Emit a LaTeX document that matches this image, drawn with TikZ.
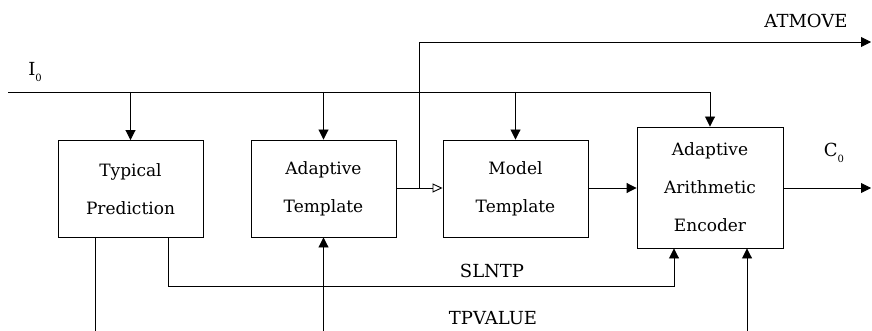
\documentclass[tikz,border=0pt]{standalone}
\usepackage{fontspec}
\setmainfont{DejaVu Serif}
\usetikzlibrary{arrows.meta}
\newcommand{\subz}{\raisebox{-6pt}{\fontsize{10}{10}\selectfont 0}}
\tikzset{
	blk/.style={draw, line width=0.9pt, minimum width=145pt, minimum height=97pt, align=center, font=\fontsize{17}{38}\selectfont},
	lbl/.style={font=\fontsize{18}{20}\selectfont},
	arr/.style={-{Triangle[length=10pt,width=10pt]}},
	openarr/.style={-{Triangle[open,length=10pt,width=9pt]}}
}
\begin{document}
\begin{tikzpicture}[x=1pt, y=-1pt, line width=0.9pt]
			%%%%% START %%%%%
			\useasboundingbox (0, 0) rectangle (872, 331);
			
			\node[blk] (tp) at (130.5, 189) {Typical\\Prediction};
			\node[blk] (at) at (323.5, 188.5) {Adaptive\\Template};
			\node[blk] (mt) at (515.5, 188.5) {Model\\Template};
			\node[blk, minimum width=146pt, minimum height=121pt] (aae) at (710, 187.5) {Adaptive\\Arithmetic\\Encoder};
			
			\coordinate (in) at (8, 92);
			\coordinate (bot) at (0, 331);
			\coordinate (split) at (419, 188);
			\coordinate (atmove) at (871, 42);
			\coordinate (out) at (871, 188);
			\coordinate (sl) at (674, 286);
			
			% input I0
			\node[lbl] (iin) at (35, 72) {I\subz};
			\draw[arr] (in) -| (aae.north);
			\draw[arr] (tp.north |- in) -- (tp.north);
			\draw[arr] (at.north |- in) -- (at.north);
			\draw[arr] (mt.north |- in) -- (mt.north);
			
			% template path
			\draw[openarr] (at.east |- split) -- (mt.west |- split);
			\draw[arr] (split) |- (atmove);
			\node[lbl] (atm) at (806, 21) {ATMOVE};
			\draw[arr] (mt.east |- split) -- (aae.west |- split);
			
			% output C0
			\draw[arr] (aae.east |- out) -- (out);
			\node[lbl] (cout) at (834, 153) {C\subz};
			
			% SLNTP
			\draw[arr] ([xshift=37.5pt]tp.south) |- (sl) -- (sl |- aae.south);
			\node[lbl] (slntp) at (492, 271) {SLNTP};
			
			% TPVALUE
			\draw ([xshift=-35.5pt]tp.south) -- ([xshift=-35.5pt]tp.south |- bot);
			\draw[arr] (at.south |- bot) -- (at.south);
			\draw[arr] ([xshift=37pt]aae.south |- bot) -- ([xshift=37pt]aae.south);
			\node[lbl] (tpv) at (493, 318) {TPVALUE};
			%%%%% END %%%%%
\end{tikzpicture}
\end{document}
